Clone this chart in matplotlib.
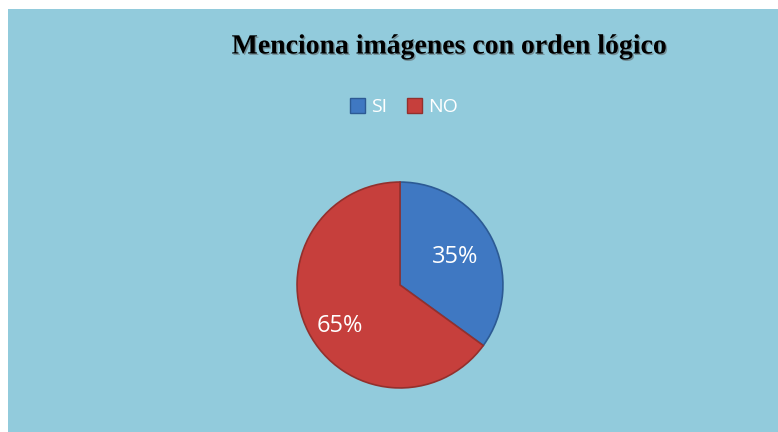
import matplotlib.pyplot as plt
from matplotlib.patches import Rectangle, Patch
import matplotlib.patheffects as pe

labels = ["SI", "NO"]
values = [35, 65]
colors = ["#3F78C2", "#C63F3C"]
edge_colors = ["#2C5A94", "#93302D"]
label_distances = [0.6, 0.66]

title = "Menciona imágenes con orden lógico"
bg = "#92CBDC"

# (1): Figure instance:
figure = plt.figure(figsize = (7.78, 4.32), dpi = 100, facecolor = "white")
figure.patches.append(Rectangle((8 / 778, 0), 1, 1 - 9 / 432,
                                transform = figure.transFigure,
                                facecolor = bg, edgecolor = "none", zorder = -5))

# (2): Pie axes:
cx, cy, r = 400, 285, 105
axes_object = figure.add_axes([(cx - r) / 778, (432 - cy - r) / 432, 2 * r / 778, 2 * r / 432])
axes_object.set_facecolor("none")
axes_object.set_zorder(2)

wedges, _, autotexts = axes_object.pie(
    values,
    colors = colors,
    startangle = 90,
    counterclock = False,
    autopct = lambda p: "{:.0f}%".format(p),
    pctdistance = 0.6,
    radius = 1,
    wedgeprops = dict(linewidth = 1.2))

for wedge, ec in zip(wedges, edge_colors):
    wedge.set_edgecolor(ec)

for t, d in zip(autotexts, label_distances):
    x, y = t.get_position()
    t.set_position((x * d / 0.6, y * d / 0.6 - (0.1 if d > 0.6 else 0)))
    t.set_color("white")
    t.set_fontsize(17)
    t.set_family("Open Sans")

axes_object.set_xlim(-1.02, 1.02)
axes_object.set_ylim(-1.02, 1.02)
axes_object.set_aspect("equal")
axes_object.axis("off")

# (3): Title:
figure.text(449 / 778, 1 - 47 / 432, title,
            ha = "center", va = "center",
            fontsize = 20, fontweight = "bold", family = "Liberation Serif",
            color = "black",
            path_effects = [pe.withSimplePatchShadow(offset = (1, -1), shadow_rgbFace = "#555555", alpha = 0.5)])

# (4): Legend:
handles = [Patch(facecolor = c, edgecolor = e) for c, e in zip(colors, edge_colors)]
legend = figure.legend(handles, labels,
                       loc = "center", bbox_to_anchor = (404 / 778, 1 - 107 / 432),
                       ncol = 2, frameon = False,
                       handlelength = 0.8, handleheight = 0.8,
                       handletextpad = 0.3, columnspacing = 1.0,
                       prop = {"family": "Open Sans", "size": 14})
for text in legend.get_texts():
    text.set_color("white")

plt.savefig("out.png", dpi = 100, facecolor = figure.get_facecolor())
